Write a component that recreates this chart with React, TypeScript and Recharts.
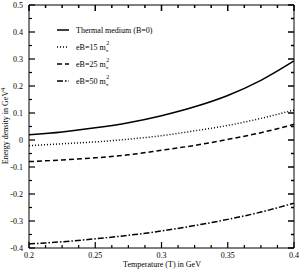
import { Line, LineChart, ReferenceLine, XAxis, YAxis } from "recharts";

const temps = [0.2, 0.225, 0.25, 0.275, 0.3, 0.325, 0.35, 0.375, 0.4];
const thermal = [0.019, 0.03, 0.045, 0.064, 0.09, 0.123, 0.165, 0.221, 0.293];
const eb15 = [-0.021, -0.014, -0.007, 0.003, 0.016, 0.034, 0.054, 0.08, 0.111];
const eb25 = [-0.08, -0.074, -0.066, -0.055, -0.038, -0.02, 0.002, 0.027, 0.058];
const eb50 = [-0.385, -0.377, -0.366, -0.353, -0.337, -0.317, -0.294, -0.267, -0.234];

const xMajor = [0.2, 0.25, 0.3, 0.35, 0.4];
const xLabels = ["0.2", "0.25", "0.3", "0.35", "0.4"];
const yMajor = [-0.4, -0.3, -0.2, -0.1, 0, 0.1, 0.2, 0.3, 0.4, 0.5];
const yLabels = ["-0.4", "-0.3", "-0.2", "-0.1", "0", "0.1", "0.2", "0.3", "0.4", "0.5"];

const X_MIN = 0.2;
const X_MAX = 0.4;
const Y_MIN = -0.4;
const Y_MAX = 0.5;

const xTicks: number[] = [];
for (let i = 0; i <= 16; i++) xTicks.push(+(0.2 + i * 0.0125).toFixed(4));
const yTicks: number[] = [];
for (let i = 0; i <= 18; i++) yTicks.push(+(-0.4 + i * 0.05).toFixed(3));

const data = temps.map((t, i) => ({
  t,
  thermal: thermal[i],
  eb15: eb15[i],
  eb25: eb25[i],
  eb50: eb50[i],
}));

const FONT = "'Liberation Serif', 'DejaVu Serif', serif";

// plot is ~265px wide and ~243px tall; tick lengths in data units
const X_PER_PX = (X_MAX - X_MIN) / 265;
const Y_PER_PX = (Y_MAX - Y_MIN) / 243;

const majorIndex = (v: number, list: number[]) =>
  list.findIndex((m) => Math.abs(m - v) < 1e-6);

function BottomTick(props: any) {
  const { x, y, payload } = props;
  const idx = majorIndex(payload.value, xMajor);
  const len = idx >= 0 ? 6 : 3;
  return (
    <g>
      <rect x={x - 0.6} y={y - len} width={1.2} height={len} fill="#000" />
      {idx >= 0 && (
        <text x={x} y={y + 10} textAnchor="middle" fontSize={8} fontFamily={FONT} fill="#000">
          {xLabels[idx]}
        </text>
      )}
    </g>
  );
}

function LeftTick(props: any) {
  const { x, y, payload } = props;
  const idx = majorIndex(payload.value, yMajor);
  const len = idx >= 0 ? 6 : 3;
  return (
    <g>
      <rect x={x} y={y - 0.6} width={len} height={1.2} fill="#000" />
      {idx >= 0 && (
        <text x={x - 6} y={y + 3} textAnchor="end" fontSize={8} fontFamily={FONT} fill="#000">
          {yLabels[idx]}
        </text>
      )}
    </g>
  );
}

// inward tick marks along the top and right edges
const topMarks = xTicks.map((v) => {
  const len = (majorIndex(v, xMajor) >= 0 ? 6 : 3) * Y_PER_PX;
  return [{ x: v, y: Y_MAX }, { x: v, y: Y_MAX - len }];
});
const rightMarks = yTicks.map((v) => {
  const len = (majorIndex(v, yMajor) >= 0 ? 6 : 3) * X_PER_PX;
  return [{ x: X_MAX, y: v }, { x: X_MAX - len, y: v }];
});

const legendItems = [
  { label: "Thermal medium (B=0)", dash: undefined, mpi: false },
  { label: "eB=15 m", dash: "1 2", mpi: true },
  { label: "eB=25 m", dash: "5 3", mpi: true },
  { label: "eB=50 m", dash: "6 2 1.5 2", mpi: true },
];

function LegendBox() {
  return (
    <svg width={110} height={72} style={{ display: "block" }}>
      {legendItems.map((it, i) => {
        const cy = 8 + i * 17;
        return (
          <g key={it.label}>
            <line x1={2} x2={14} y1={cy} y2={cy} stroke="#000" strokeWidth={1.5} strokeDasharray={it.dash} />
            <text x={21} y={cy + 3} fontSize={8} fontFamily={FONT} fill="#000">
              {it.label}
              {it.mpi && (
                <>
                  <tspan fontSize={5} dy={2}>π</tspan>
                  <tspan fontSize={6} dx={-2} dy={-7}>2</tspan>
                </>
              )}
            </text>
          </g>
        );
      })}
    </svg>
  );
}

const axisLine = { stroke: "#000", strokeWidth: 1 };

export default function App() {
  return (
    <div style={{ position: "absolute", left: 0, top: 0, width: 300, height: 273, background: "#fff" }}>
      <LineChart width={300} height={273} data={data} margin={{ top: 5, right: 6, left: 0, bottom: 0 }}>
        <XAxis
          dataKey="t"
          type="number"
          domain={[X_MIN, X_MAX]}
          ticks={xTicks}
          interval={0}
          tick={<BottomTick />}
          tickLine={false}
          tickSize={0}
          tickMargin={0}
          height={25}
          axisLine={axisLine}
          label={{
            content: () => (
              <text x={162} y={267} textAnchor="middle" fontSize={8} fontFamily={FONT} fill="#000">
                Temperature (T) in GeV
              </text>
            ),
          }}
        />
        <YAxis
          type="number"
          domain={[Y_MIN, Y_MAX]}
          ticks={yTicks}
          interval={0}
          tick={<LeftTick />}
          tickLine={false}
          tickSize={0}
          tickMargin={0}
          width={29}
          axisLine={axisLine}
          label={{
            content: () => (
              <text
                x={8}
                y={126}
                transform="rotate(-90 8 126)"
                textAnchor="middle"
                fontSize={8}
                fontFamily={FONT}
                fill="#000"
              >
                Energy density in GeV
                <tspan fontSize={6} dy={-3}>4</tspan>
              </text>
            ),
          }}
        />
        {/* top and right edges of the frame */}
        <ReferenceLine y={Y_MAX} stroke="#000" strokeWidth={1} ifOverflow="visible" />
        <ReferenceLine x={X_MAX} stroke="#000" strokeWidth={1} ifOverflow="visible" />
        {[...topMarks, ...rightMarks].map((seg, i) => (
          <ReferenceLine key={i} segment={seg} stroke="#000" strokeWidth={1.5} ifOverflow="visible" />
        ))}
        <Line type="monotone" dataKey="thermal" stroke="#000" strokeWidth={1.5} dot={false} isAnimationActive={false} />
        <Line type="monotone" dataKey="eb15" stroke="#000" strokeWidth={1.5} strokeDasharray="1 2" dot={false} isAnimationActive={false} />
        <Line type="monotone" dataKey="eb25" stroke="#000" strokeWidth={1.5} strokeDasharray="5 3" dot={false} isAnimationActive={false} />
        <Line type="monotone" dataKey="eb50" stroke="#000" strokeWidth={1.5} strokeDasharray="6 2 1.5 2" dot={false} isAnimationActive={false} />
      </LineChart>
      <div style={{ position: "absolute", left: 55, top: 22 }}>
        <LegendBox />
      </div>
    </div>
  );
}
